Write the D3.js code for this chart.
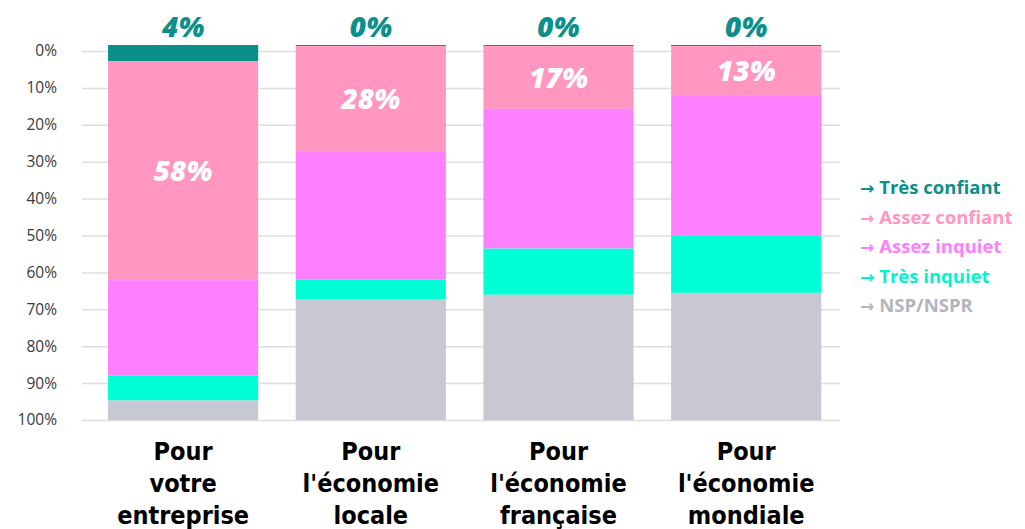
<!DOCTYPE html>
<html lang="fr">
<head>
    <meta charset="UTF-8">
    <title>Confiance</title>
    <script src="https://cdnjs.cloudflare.com/ajax/libs/d3/7.8.5/d3.min.js"></script>
    <style>
        body { margin: 0; background: #fff; }
        svg { display: block; }
    </style>
</head>
<body>
<svg width="1025" height="529"></svg>

<script>
    // categories (one line per array item)
    const categories = ["entreprise", "locale", "francaise", "mondiale"];
    const catLabels = [
        ["Pour", "votre", "entreprise"],
        ["Pour", "l'économie", "locale"],
        ["Pour", "l'économie", "française"],
        ["Pour", "l'économie", "mondiale"]
    ];

    // series, top of the bar first
    const seriesNames = ["Très confiant", "Assez confiant", "Assez inquiet", "Très inquiet", "NSP/NSPR"];
    const seriesColors = ["#0b8f8b", "#ff97c1", "#ff80ff", "#00ffd4", "#c8c8d2"];
    const legendColors = ["#0b8f8b", "#ff97c1", "#ff80ff", "#00f5cc", "#b4b4c0"];

    const tresConfiant = [4.3, 0.3, 0.3, 0.3];
    const assezConfiant = [58.4, 28.2, 16.7, 13.3];
    const assezInquiet = [25.4, 34.1, 37.3, 37.3];
    const tresInquiet = [6.7, 5.3, 12.3, 15.2];
    const nsp = [5.2, 32.1, 33.4, 33.9];

    const yTicks = [0, 10, 20, 30, 40, 50, 60, 70, 80, 90, 100];

    const seriesValues = [tresConfiant, assezConfiant, assezInquiet, tresInquiet, nsp];

    const rows = categories.map((c, i) => {
        const r = {cat: c};
        seriesNames.forEach((s, j) => r[s] = seriesValues[j][i]);
        return r;
    });

    const svg = d3.select("svg");
    const numFont = "'Open Sans', 'Noto Sans', sans-serif";
    const condFont = "'Liberation Sans Narrow', 'DejaVu Sans Condensed', 'Roboto', sans-serif";

    const x = d3.scaleBand().domain(categories).range([70.5, 858.8]).padding(0.2);
    const yAxisScale = d3.scaleLinear().domain([0, 100]).range([51, 420]);
    const yBar = d3.scaleLinear().domain([0, 100]).range([45, 420]);

    // grid + y labels
    const gridLeft = 82, gridRight = 840;
    const axis = svg.append("g")
        .attr("transform", `translate(${gridLeft},0)`)
        .call(d3.axisLeft(yAxisScale)
            .tickValues(yTicks)
            .tickSize(-(gridRight - gridLeft))
            .tickPadding(25)
            .tickFormat(d => d + "%"));
    axis.select(".domain").remove();
    axis.selectAll(".tick line").attr("stroke", "#dedede").attr("stroke-width", 1.5);
    axis.selectAll(".tick text")
        .attr("fill", "#3a3a3a")
        .style("font-family", numFont)
        .style("font-size", "15.5px");

    // stacked bars
    const stack = d3.stack().keys(seriesNames);
    const stacked = stack(rows);

    svg.append("g")
        .selectAll("g")
        .data(stacked)
        .join("g")
        .attr("fill", (d, i) => seriesColors[i])
        .selectAll("rect")
        .data(d => d)
        .join("rect")
        .attr("x", d => x(d.data.cat))
        .attr("width", x.bandwidth())
        .attr("y", d => yBar(d[0]))
        .attr("height", d => yBar(d[1]) - yBar(d[0]));

    // labels: Très confiant above bars
    svg.append("g")
        .selectAll("text")
        .data(rows)
        .join("text")
        .attr("x", d => x(d.cat) + x.bandwidth() / 2)
        .attr("y", 37)
        .attr("text-anchor", "middle")
        .attr("fill", seriesColors[0])
        .style("font-family", numFont)
        .style("font-weight", "800")
        .style("font-style", "italic")
        .style("font-size", "28px")
        .text(d => Math.round(d[seriesNames[0]]) + "%");

    // labels: Assez confiant inside
    const ac = stacked[1];
    svg.append("g")
        .selectAll("text")
        .data(ac)
        .join("text")
        .attr("x", d => x(d.data.cat) + x.bandwidth() / 2)
        .attr("y", d => yBar((d[0] + d[1]) / 2))
        .attr("dy", "0.36em")
        .attr("text-anchor", "middle")
        .attr("fill", "#fff")
        .style("font-family", numFont)
        .style("font-weight", "800")
        .style("font-style", "italic")
        .style("font-size", "28px")
        .text(d => Math.round(d[1] - d[0]) + "%");

    // category labels
    const catG = svg.append("g")
        .selectAll("text")
        .data(categories)
        .join("text")
        .attr("x", d => x(d) + x.bandwidth() / 2)
        .attr("y", 460)
        .attr("text-anchor", "middle")
        .attr("fill", "#000")
        .style("font-family", condFont)
        .style("font-weight", "bold")
        .style("font-size", "25px");
    catG.selectAll("tspan")
        .data((d, i) => catLabels[i])
        .join("tspan")
        .attr("x", function () { return d3.select(this.parentNode).attr("x"); })
        .attr("dy", (d, i) => i === 0 ? 0 : 32)
        .text(d => d);

    // legend
    const legend = svg.append("g")
        .selectAll("text")
        .data(seriesNames)
        .join("text")
        .attr("x", 860)
        .attr("y", (d, i) => 194 + i * 29.6)
        .attr("fill", (d, i) => legendColors[i])
        .style("font-family", numFont)
        .style("font-weight", "bold")
        .style("font-size", "18.5px");
    legend.append("tspan")
        .style("font-family", "'DejaVu Sans', sans-serif")
        .style("font-size", "17px")
        .text("\u2192");
    legend.append("tspan")
        .attr("dx", 5)
        .text(d => d);
</script>
</body>
</html>
